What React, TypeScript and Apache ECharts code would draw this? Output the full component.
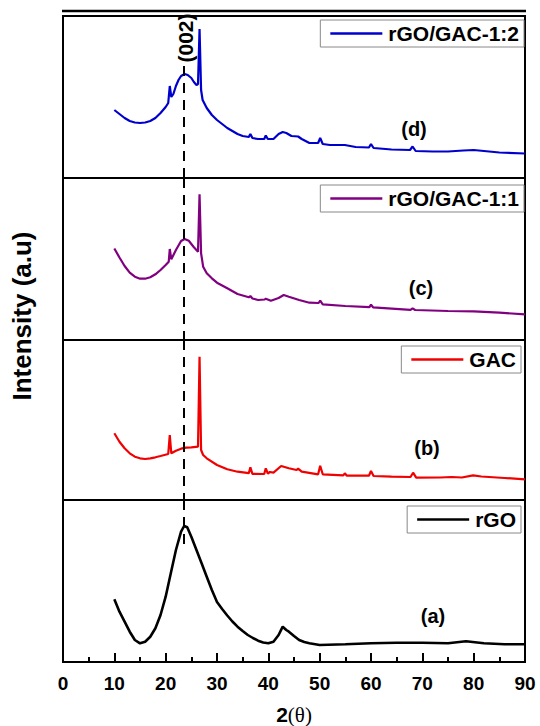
import React, { useEffect, useRef } from "react";
import * as echarts from "echarts";

// [2θ, intensity (a.u., height above panel baseline)]
const rgoGac12: number[][] = [
  [10, 68], [11, 64], [12, 60], [13, 57], [14, 55.5], [15, 55], [16, 55.5], [17, 57], [18, 60], [19, 65],
  [20, 71], [20.5, 75], [20.8, 92], [21.1, 81], [21.5, 84], [22, 92], [22.5, 98], [23, 102], [23.7, 104], [24.3, 103],
  [25, 100], [25.5, 96], [26, 93], [26.3, 94], [26.6, 149], [26.9, 88], [27.2, 78], [28, 70], [29, 63], [30, 58],
  [31, 54], [32, 50], [33, 47], [34, 44], [35, 42], [36.2, 41], [36.5, 44], [36.9, 40], [38, 39], [39.2, 39],
  [39.5, 42.5], [39.9, 39], [41, 39], [42, 44], [42.8, 46], [43.5, 45], [44.5, 42], [45.8, 41.5], [46.5, 39], [48, 35],
  [49.7, 35], [50.1, 40], [50.6, 34], [52, 33], [54.9, 33], [57, 31], [59.6, 30.5], [60, 34], [60.5, 30], [64, 28.5],
  [67.6, 28], [68.1, 31.5], [68.7, 27], [72, 26.5], [75, 26.5], [78, 27.5], [80, 28], [82, 27], [85, 25.5], [90, 24.5],
];

const rgoGac11: number[][] = [
  [10, 91.5], [11, 82.5], [12, 74], [13, 67.3], [14, 63.3], [15, 61.3], [16, 61.3], [17, 62.7], [18, 65.7], [19, 70],
  [20, 75], [20.6, 78.3], [20.8, 91], [21.1, 80.7], [22, 90], [23, 99], [23.7, 101], [24.5, 99.3], [25.5, 92.7], [26.3, 88.3],
  [26.6, 145.7], [26.9, 86.7], [27.3, 73.3], [28, 66.7], [29, 61.7], [30, 57.3], [32, 51.7], [34, 46], [36.2, 42.7], [36.5, 44],
  [36.9, 41.5], [38, 40], [39.3, 40.5], [39.5, 41.3], [40.5, 39.3], [42, 42], [43, 45], [44, 43.3], [46, 40], [48, 37.3],
  [49.8, 37], [50.1, 39.3], [50.6, 35.7], [55, 34], [59.7, 32.9], [60, 35.3], [60.4, 32.7], [67.7, 30.2], [68.1, 31.7], [68.6, 30],
  [75, 29], [80, 28.7], [85, 27.3], [90, 25.7],
];

const gac: number[][] = [
  [10, 66.7], [11, 58.3], [12, 51.7], [13, 46.7], [14, 43.3], [15, 41.7], [16, 41], [17, 41.7], [18, 42.7], [19, 44],
  [20.5, 46], [20.8, 65], [21.1, 46.7], [22, 49.3], [23, 51.3], [24, 52.3], [25, 52.7], [26.3, 53.3], [26.6, 143.3], [26.9, 50],
  [27.3, 45], [28, 41.7], [30, 35], [32, 30.7], [34, 28.3], [36.2, 26.8], [36.5, 32.7], [36.9, 26.2], [39.2, 26], [39.5, 31.7],
  [39.9, 26.5], [40.3, 28], [41, 27.3], [42.5, 34], [44, 31.7], [45.5, 30], [45.8, 31.3], [46.5, 28.3], [49.7, 25.7], [50.1, 34.3],
  [50.6, 25.7], [54.6, 24.7], [54.9, 26.7], [55.3, 24.3], [59.6, 24.3], [60, 29], [60.5, 24], [64, 23.3], [67.7, 23], [68.2, 27.3],
  [68.8, 22.3], [73.5, 22.5], [75.7, 23], [77.7, 22.5], [79.9, 24.7], [81.5, 23.5], [86, 22], [90, 20.7],
];

const rgo: number[][] = [
  [10, 62.7], [11, 50.3], [12, 40.3], [13, 30.3], [14, 22], [15, 18.7], [16, 20.3], [17, 25.3], [18, 33.7], [19, 47],
  [20, 65.3], [21, 88.7], [22, 112], [23, 130.3], [23.6, 136], [24.2, 134.7], [25, 125.3], [26, 112], [27, 98.7], [28, 85.3],
  [29, 72], [30, 60], [31, 53], [32, 46.5], [33, 40.5], [34, 35.3], [35, 31], [36, 27], [37, 24], [38, 21.3],
  [39, 19.5], [40, 18.7], [41, 20.3], [42, 27], [42.8, 35.3], [43.5, 32], [44, 30.3], [45, 26], [46, 22], [47, 20],
  [48, 18.7], [50, 17], [55, 17.7], [60, 18.7], [65, 19.3], [70, 19.3], [75, 18.7], [78.5, 20.7], [82, 18.7], [86, 17.7],
  [90, 17.7],
];

const seriesNames = ["rGO/GAC-1:2", "rGO/GAC-1:1", "GAC", "rGO"];
const seriesColors = ["#0000CD", "#800080", "#F00000", "#000000"];
const panelLetters = ["(d)", "(c)", "(b)", "(a)"];
const xTicks = { min: 0, max: 90, interval: 10 };
const peakPos = 23.5; // (002)

const FONT = "'Liberation Sans', Arial, sans-serif";

export default function App() {
  const ref = useRef<HTMLDivElement>(null);

  useEffect(() => {
    document.body.style.margin = "0";
    if (!ref.current) return;
    const chart = echarts.init(ref.current, null, { renderer: "svg" });

    const left = 63;
    const width = 462;
    const panels = [
      { top: 16, height: 162 },
      { top: 178, height: 162 },
      { top: 340, height: 160 },
      { top: 500, height: 162 },
    ];
    const datasets = [rgoGac12, rgoGac11, gac, rgo];
    const dashRanges = [
      [112, 0],
      [162, 0],
      [160, 0],
      [162, 117],
    ];
    const legendPos = [
      { right: 16, top: 20 },
      { right: 16, top: 185 },
      { right: 19, top: 346 },
      { right: 19, top: 506 },
    ];
    const letterPos = [
      [414, 129],
      [421, 288],
      [427, 448],
      [433, 616],
    ];

    const grids = panels.map((p) => ({
      left,
      width,
      top: p.top,
      height: p.height,
      show: true,
      borderColor: "#000",
      borderWidth: 2,
      backgroundColor: "transparent",
    }));

    const xAxes = panels.map((_, i) => {
      const isBottom = i === panels.length - 1;
      return {
        type: "value",
        gridIndex: i,
        min: xTicks.min,
        max: xTicks.max,
        interval: xTicks.interval,
        show: isBottom,
        axisLine: { show: true, lineStyle: { color: "#000", width: 2 } },
        axisTick: { show: true, inside: true, length: 9, lineStyle: { color: "#000", width: 2 } },
        minorTick: { show: true, splitNumber: 2, length: 5, lineStyle: { color: "#000", width: 2 } },
        splitLine: { show: false },
        axisLabel: {
          show: isBottom,
          color: "#000",
          fontSize: 19,
          fontWeight: "bold",
          fontFamily: FONT,
          margin: 12,
        },
        name: isBottom ? "{a|2}{b|(θ)}" : "",
        nameLocation: "middle",
        nameGap: 42,
        nameTextStyle: {
          rich: {
            a: { fontSize: 21, fontWeight: "bold", fontFamily: FONT, color: "#000" },
            b: { fontSize: 21, fontFamily: "'Liberation Serif', 'Times New Roman', serif", color: "#000" },
          },
        },
      };
    });

    const yAxes = panels.map((p, i) => ({
      type: "value",
      gridIndex: i,
      min: 0,
      max: p.height,
      show: false,
    }));

    const series = datasets.map((d, i) => ({
      type: "line",
      name: seriesNames[i],
      xAxisIndex: i,
      yAxisIndex: i,
      data: d,
      symbol: "none",
      lineStyle: { color: seriesColors[i], width: i === 3 ? 2.6 : 2.2 },
      itemStyle: { color: seriesColors[i] },
      z: 3,
      markLine: {
        silent: true,
        symbol: "none",
        label: { show: false },
        lineStyle: { color: "#000", width: 2, type: [10, 7] },
        data: [
          [
            { coord: [peakPos, dashRanges[i][0]] },
            { coord: [peakPos, dashRanges[i][1]] },
          ],
        ],
      },
    }));

    const legends = seriesNames.map((n, i) => ({
      data: [n],
      right: legendPos[i].right,
      top: legendPos[i].top,
      orient: "horizontal",
      icon: "rect",
      itemWidth: 52,
      itemHeight: 2.5,
      itemGap: 4,
      padding: [3, 5, 3, 10],
      borderColor: "#888",
      borderWidth: 1,
      borderRadius: 0,
      backgroundColor: "#fff",
      selectedMode: false,
      textStyle: { color: "#000", fontSize: 21, fontWeight: "bold", fontFamily: FONT, padding: [0, 0, 0, 1] },
    }));

    const graphics: any[] = [
      {
        type: "line",
        shape: { x1: 62, y1: 11, x2: 526, y2: 11 },
        style: { stroke: "#000", lineWidth: 2.5 },
      },
      {
        type: "text",
        x: 185,
        y: 38,
        rotation: Math.PI / 2,
        style: {
          text: "(002)",
          font: `bold 21px ${FONT}`,
          fill: "#000",
          align: "center",
          verticalAlign: "middle",
        },
      },
      {
        type: "text",
        x: 22,
        y: 316,
        rotation: Math.PI / 2,
        style: {
          text: "Intensity (a.u)",
          font: `bold 26px ${FONT}`,
          fill: "#000",
          align: "center",
          verticalAlign: "middle",
        },
      },
      ...panelLetters.map((t, i) => ({
        type: "text",
        x: letterPos[i][0],
        y: letterPos[i][1],
        style: {
          text: t,
          font: `bold 20px ${FONT}`,
          fill: "#000",
          align: "center",
          verticalAlign: "middle",
        },
      })),
    ];

    chart.setOption({
      animation: false,
      backgroundColor: "#fff",
      grid: grids,
      xAxis: xAxes,
      yAxis: yAxes,
      series,
      legend: legends,
      graphic: graphics,
    });

    return () => chart.dispose();
  }, []);

  return <div ref={ref} style={{ width: 540, height: 726 }} />;
}
